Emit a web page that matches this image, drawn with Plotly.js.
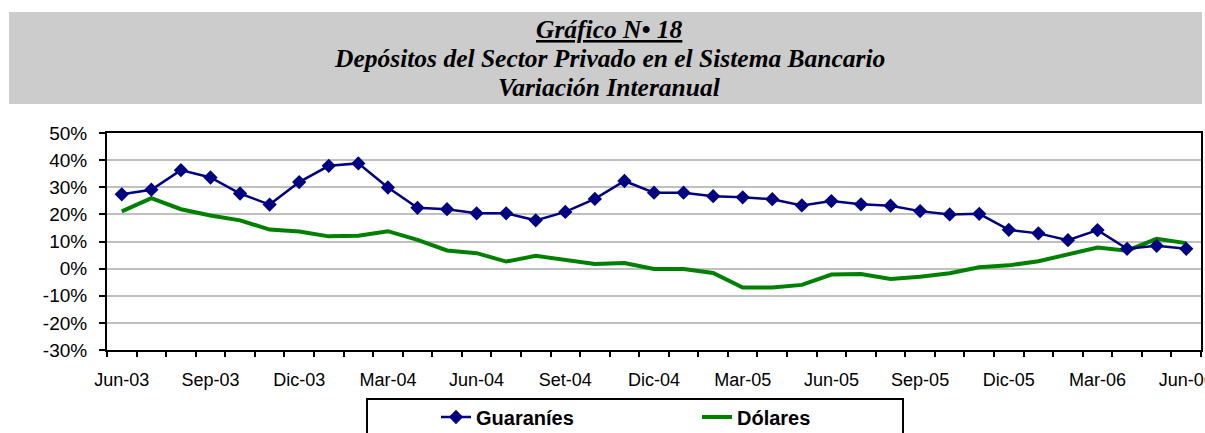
<!DOCTYPE html>
<html>
<head>
<meta charset="utf-8">
<script src="https://cdn.plot.ly/plotly-3.0.1.min.js"></script>
<style>html,body{margin:0;padding:0;background:#fff;}#chart{width:1205px;height:433px;}</style>
</head>
<body>
<div id="chart"></div>
<script>
const months = ["Jun-03","Jul-03","Ago-03","Sep-03","Oct-03","Nov-03","Dic-03","Ene-04","Feb-04","Mar-04","Abr-04","May-04","Jun-04","Jul-04","Ago-04","Set-04","Oct-04","Nov-04","Dic-04","Ene-05","Feb-05","Mar-05","Abr-05","May-05","Jun-05","Jul-05","Ago-05","Sep-05","Oct-05","Nov-05","Dic-05","Ene-06","Feb-06","Mar-06","Abr-06","May-06","Jun-06"];
const tickLabels = ["Jun-03","","","Sep-03","","","Dic-03","","","Mar-04","","","Jun-04","","","Set-04","","","Dic-04","","","Mar-05","","","Jun-05","","","Sep-05","","","Dic-05","","","Mar-06","","","Jun-06"];
const yTickVals = [-30, -20, -10, 0, 10, 20, 30, 40, 50];
const yTickLabels = ["-30%", "-20%", "-10%", "0%", "10%", "20%", "30%", "40%", "50%"];
const guaranies = [27.4,29.1,36.3,33.6,27.7,23.6,31.9,37.9,38.8,29.9,22.4,21.9,20.4,20.4,17.8,20.9,25.7,32.3,28.0,28.0,26.7,26.3,25.6,23.3,24.9,23.7,23.2,21.2,20.0,20.2,14.3,13.0,10.5,14.2,7.3,8.4,7.3];
const dolares = [21.1,26.0,21.9,19.6,17.8,14.4,13.7,11.9,12.1,13.8,10.6,6.7,5.7,2.6,4.7,3.2,1.7,2.1,-0.1,-0.1,-1.6,-7.0,-7.0,-6.0,-2.2,-2.0,-3.8,-3.0,-1.7,0.5,1.2,2.7,5.1,7.8,6.6,11.0,9.4];
const titleLines = ["Gráfico N• 18","Depósitos del Sector Privado en el Sistema Bancario","Variación Interanual"];

// layout geometry (pixels)
const W = 1205, H = 433, L = 107, R = 4, T = 133, B = 83;
const pw = W - L - R, ph = H - T - B;
const px = x => (x - L) / pw;
const py = y => (H - B - y) / ph;

const traces = [
  {name: "Dólares", x: months, y: dolares, type: "scatter", mode: "lines",
   line: {color: "#008000", width: 4}, legendrank: 2},
  {name: "Guaraníes", x: months, y: guaranies, type: "scatter", mode: "lines+markers",
   line: {color: "#000080", width: 2.5},
   marker: {symbol: "diamond", size: 11, color: "#000080"}, legendrank: 1}
];

const titleFont = {family: "Liberation Serif, Times New Roman, serif", size: 25.5, color: "#000", weight: "bold", style: "italic"};
const annotations = titleLines.map((t, i) => ({
  text: t, xref: "paper", yref: "paper", x: px(609), y: py([29, 58, 87][i]),
  xanchor: "center", yanchor: "middle", showarrow: false,
  font: Object.assign({}, titleFont, i === 0 ? {lineposition: "under"} : {})
}));

const layout = {
  width: W, height: H,
  margin: {l: L, r: R, t: T, b: B, pad: 0, autoexpand: false},
  paper_bgcolor: "#fff", plot_bgcolor: "#fff",
  showlegend: true,
  font: {family: "Liberation Sans, Arial, sans-serif", color: "#000", size: 18},
  xaxis: {
    type: "category", tickmode: "array", tickvals: months, ticktext: tickLabels,
    tickson: "boundaries", ticks: "outside", ticklen: 5, tickwidth: 2, tickcolor: "#000",
    showline: true, linecolor: "#000", linewidth: 2, mirror: true,
    showgrid: false, zeroline: false, tickangle: 0, ticklabelstandoff: 12,
    tickfont: {size: 18}, range: [-0.5, 36.5], fixedrange: true, automargin: false
  },
  yaxis: {
    range: [-30, 50], tickmode: "array", tickvals: yTickVals, ticktext: yTickLabels,
    ticks: "outside", ticklen: 6, tickwidth: 2, tickcolor: "#000",
    showline: true, linecolor: "#000", linewidth: 2, mirror: true,
    showgrid: true, gridcolor: "#c0c0c0", gridwidth: 2, zeroline: false,
    tickfont: {size: 19}, ticklabelstandoff: 8, fixedrange: true, automargin: false
  },
  legend: {
    orientation: "h", x: px(436), y: py(417), xanchor: "left", yanchor: "middle",
    bgcolor: "rgba(0,0,0,0)", borderwidth: 0,
    font: {size: 20, weight: "bold"}, entrywidth: 216, entrywidthmode: "pixels",
    traceorder: "normal"
  },
  shapes: [
    {type: "rect", xref: "paper", yref: "paper", x0: px(9), x1: px(1202), y0: py(104), y1: py(12),
     fillcolor: "#cccccc", line: {width: 0}, layer: "below"},
    {type: "rect", xref: "paper", yref: "paper", x0: px(367), x1: px(903), y0: py(399), y1: py(450),
     fillcolor: "rgba(0,0,0,0)", line: {color: "#000", width: 2}, layer: "above"}
  ],
  annotations: annotations
};

Plotly.newPlot("chart", traces, layout, {displayModeBar: false, staticPlot: true});
</script>
</body>
</html>
